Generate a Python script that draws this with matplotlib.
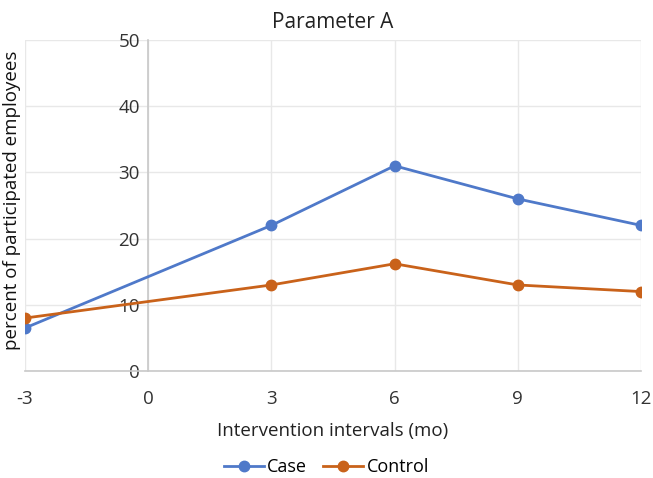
import numpy as np
import matplotlib.pyplot as plt

plt.rcParams['font.family'] = ['Open Sans', 'DejaVu Sans']
plt.rcParams['axes.unicode_minus'] = False

months = [-3, 3, 6, 9, 12]
case = [6.5, 22, 31, 26, 22]
control = [8, 13, 16.2, 13, 12]
xticks = [-3, 0, 3, 6, 9, 12]
yticks = [0, 10, 20, 30, 40, 50]

fig = plt.figure(figsize=(6.53, 4.78), dpi=100)
ax = fig.add_axes([0.0383, 0.2238, 0.9433, 0.6925])

ax.plot(months, case, '-o', color='#4F79C9', lw=2, ms=7.5, label='Case', zorder=3)
ax.plot(months, control, '-o', color='#C9621A', lw=2, ms=7.5, label='Control', zorder=3)

ax.set_xlim(-3, 12)
ax.set_ylim(0, 50)
ax.set_xticks(xticks)
ax.set_yticks(yticks)
ax.grid(True, color='#e8e8e8', lw=1)
ax.set_axisbelow(True)

for s in ['top', 'right']:
    ax.spines[s].set_visible(False)
ax.spines['left'].set_position(('data', 0))
ax.spines['left'].set_color('#c8c8c8')
ax.spines['bottom'].set_color('#c8c8c8')
ax.spines['left'].set_linewidth(1.2)
ax.spines['bottom'].set_linewidth(1.2)
ax.tick_params(axis='both', length=0, labelsize=13.5, colors='#333333')
ax.tick_params(axis='x', pad=14)
ax.tick_params(axis='y', pad=6)

ax.set_title('Parameter A', fontsize=15, pad=9, color='#222222')
ax.set_xlabel('Intervention intervals (mo)', fontsize=13.5, labelpad=10, color='#222222')
fig.text(0.019, 0.58, 'percent of participated employees', rotation=90,
         ha='center', va='center', fontsize=13.5, color='#111111')

fig.legend(loc='center', bbox_to_anchor=(0.5, 0.023), ncol=2, frameon=False,
           fontsize=13, handlelength=2.2, columnspacing=0.9, handletextpad=0.2)

fig.savefig('out.png', dpi=100)
